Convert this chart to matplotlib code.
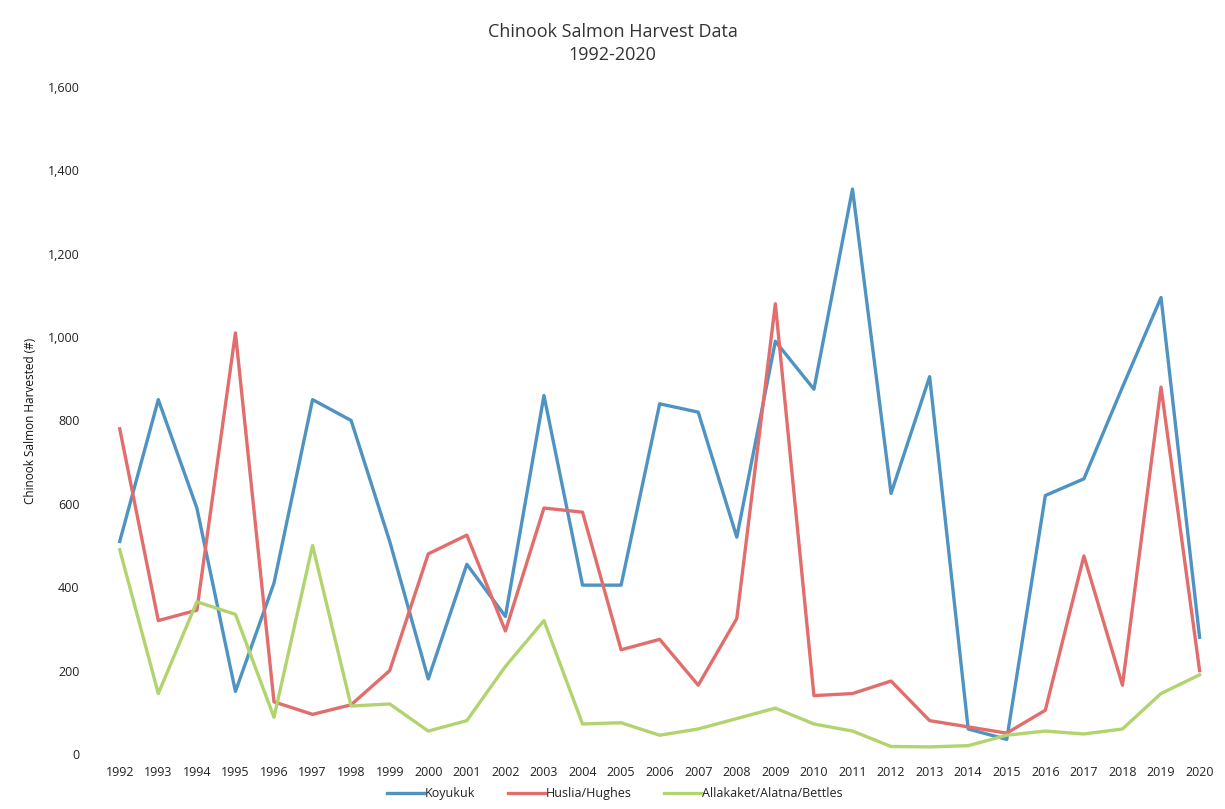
import matplotlib
matplotlib.use("Agg")
import matplotlib.pyplot as plt
from matplotlib.ticker import FuncFormatter

years = list(range(1992, 2021))
koyukuk = [510, 850, 590, 150, 410, 850, 800, 510, 180, 455,
           330, 860, 405, 405, 840, 820, 520, 990, 875, 1355,
           625, 905, 60, 35, 620, 660, 880, 1095, 280]
huslia = [780, 320, 345, 1010, 125, 95, 118, 200, 480, 525,
          295, 590, 580, 250, 275, 165, 325, 1080, 140, 145,
          175, 80, 65, 50, 105, 475, 165, 880, 200]
allakaket = [490, 145, 365, 335, 88, 500, 115, 120, 55, 80,
             210, 320, 72, 75, 45, 60, 85, 110, 72, 55,
             18, 17, 20, 45, 55, 48, 60, 145, 190]

plt.rcParams['font.family'] = ['Open Sans', 'DejaVu Sans']

fig = plt.figure(figsize=(12.25, 8.09), dpi=100)
ax = fig.add_axes([0.082, 0.068, 0.913, 0.8245])

x = range(len(years))
ax.plot(x, koyukuk, color='#4f93c3', lw=2.4, label='Koyukuk')
ax.plot(x, huslia, color='#e26d6d', lw=2.4, label='Huslia/Hughes')
ax.plot(x, allakaket, color='#b2d46e', lw=2.4, label='Allakaket/Alatna/Bettles')

ax.set_xlim(-0.5, len(years) - 0.5)
ax.set_ylim(0, 1600)
ax.set_xticks(list(x))
ax.set_xticklabels([str(y) for y in years])
ax.set_yticks(range(0, 1601, 200))
ax.yaxis.set_major_formatter(FuncFormatter(lambda v, p: '{:,.0f}'.format(v)))
ax.tick_params(axis='both', length=0, labelsize=9, colors='#222222')
ax.tick_params(axis='y', pad=15)
ax.tick_params(axis='x', pad=9)
for s in ax.spines.values():
    s.set_visible(False)

ax.set_ylabel('Chinook Salmon Harvested (#)', fontsize=8.5, color='#111111',
              labelpad=8)
fig.suptitle('Chinook Salmon Harvest Data\n1992-2020', fontsize=13, color='#333333',
             y=0.972, linespacing=1.35)

ax.legend(loc='upper center', bbox_to_anchor=(0.46, -0.033), ncol=3, frameon=False,
          fontsize=9, handlelength=3.0, handletextpad=0.05, columnspacing=2.6,
          labelcolor='#222222')

fig.savefig('out.png', dpi=100)
